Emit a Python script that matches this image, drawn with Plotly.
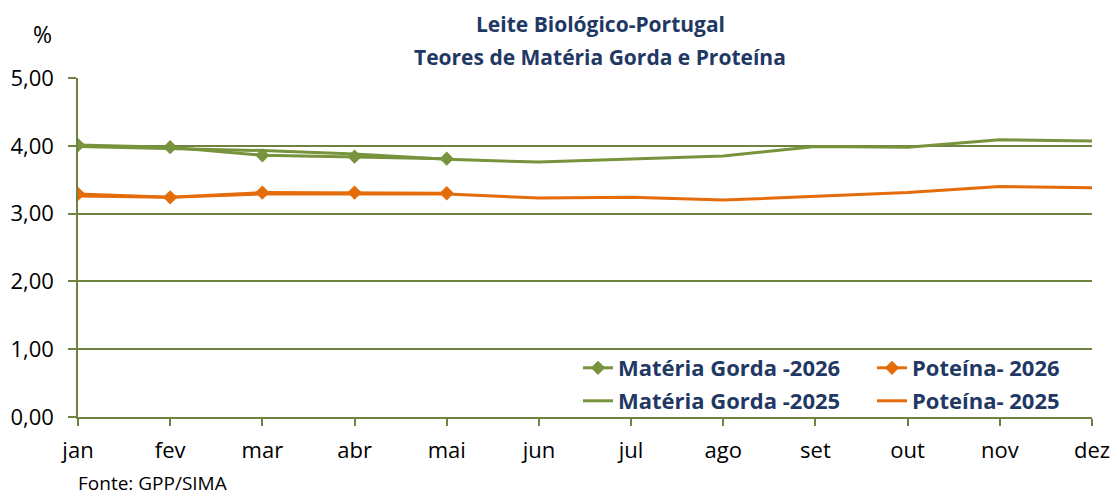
import plotly.graph_objects as go

months = ["jan", "fev", "mar", "abr", "mai", "jun", "jul", "ago", "set", "out", "nov", "dez"]
mg_2026 = [4.01, 3.98, 3.86, 3.84, 3.81]
prot_2026 = [3.29, 3.24, 3.31, 3.31, 3.30]
mg_2025 = [3.99, 3.96, 3.93, 3.88, 3.80, 3.76, 3.81, 3.85, 3.99, 3.98, 4.09, 4.07]
prot_2025 = [3.26, 3.24, 3.29, 3.29, 3.29, 3.23, 3.24, 3.20, 3.26, 3.31, 3.40, 3.38]
y_ticks = [0, 1, 2, 3, 4, 5]
y_ticktext = ["0,00", "1,00", "2,00", "3,00", "4,00", "5,00"]

GREEN = "#77933C"
ORANGE = "#E46C0A"
NAVY = "#1F3864"
AXIS = "#6F8240"
FONT = "Open Sans"

# plot area in page pixels (body margin removed via post_script)
PL, PR, PT, PB = 78, 1092, 78, 417
W, H = 1115, 497


def px2paper(px, py):
    return (px - PL) / (PR - PL), (PB - py) / (PB - PT)


fig = go.Figure()
fig.add_trace(go.Scatter(x=months[:len(mg_2026)], y=mg_2026, name="Matéria Gorda -2026",
                         mode="lines+markers", line=dict(color=GREEN, width=3),
                         marker=dict(symbol="diamond", size=11, color=GREEN), legend="legend"))
fig.add_trace(go.Scatter(x=months[:len(prot_2026)], y=prot_2026, name="Poteína- 2026",
                         mode="lines+markers", line=dict(color=ORANGE, width=3),
                         marker=dict(symbol="diamond", size=11, color=ORANGE), legend="legend2"))
fig.add_trace(go.Scatter(x=months, y=mg_2025, name="Matéria Gorda -2025",
                         mode="lines", line=dict(color=GREEN, width=3), legend="legend3"))
fig.add_trace(go.Scatter(x=months, y=prot_2025, name="Poteína- 2025",
                         mode="lines", line=dict(color=ORANGE, width=3), legend="legend4"))


def leg(px, py):
    x, y = px2paper(px, py)
    return dict(orientation="h", xanchor="left", yanchor="middle", x=x, y=y,
                bgcolor="rgba(0,0,0,0)",
                font=dict(family=FONT, size=22, color=NAVY, weight="bold"),
                itemwidth=30)


def ann(text, px, py, size, color="#000000", xanchor="center", bold=False):
    x, y = px2paper(px, py)
    if bold:
        text = "<b>" + text + "</b>"
    return dict(text=text, x=x, y=y, xref="paper", yref="paper", showarrow=False,
                xanchor=xanchor, yanchor="middle", font=dict(family=FONT, size=size, color=color))


fig.update_layout(
    width=W, height=H,
    margin=dict(l=PL, r=W - PR, t=PT, b=H - PB),
    paper_bgcolor="white", plot_bgcolor="white",
    font=dict(family=FONT, color="#000000"),
    showlegend=True,
    legend=leg(578, 368),
    legend2=leg(872, 368),
    legend3=leg(578, 401),
    legend4=leg(872, 401),
    xaxis=dict(type="category", categoryorder="array", categoryarray=months,
               range=[0, 11], showgrid=False, showline=True, linecolor=AXIS, linewidth=1.5,
               ticks="outside", ticklen=7, tickcolor=AXIS, tickwidth=1.5, ticklabelstandoff=6,
               tickfont=dict(family=FONT, size=22, color="#000000"), fixedrange=True,
               automargin=False),
    yaxis=dict(range=[0, 5], tickvals=y_ticks, ticktext=y_ticktext,
               showgrid=True, gridcolor=AXIS, gridwidth=1.5, zeroline=False,
               showline=True, linecolor=AXIS, linewidth=1.5,
               ticks="outside", ticklen=8, tickcolor=AXIS, tickwidth=1.5, ticklabelstandoff=10,
               tickfont=dict(family=FONT, size=22, color="#000000"), fixedrange=True,
               automargin=False),
    annotations=[
        ann("Leite Biológico-Portugal", 600, 24, 21, NAVY, bold=True),
        ann("Teores de Matéria Gorda e Proteína", 600, 57, 21, NAVY, bold=True),
        ann("%", 42, 34, 23),
        ann("Fonte: GPP/SIMA", 76, 483, 19, xanchor="left"),
    ],
)

fig.write_html("out.html", config={"displayModeBar": False},
               post_script="document.body.style.margin='0';document.documentElement.style.overflow='hidden';")
